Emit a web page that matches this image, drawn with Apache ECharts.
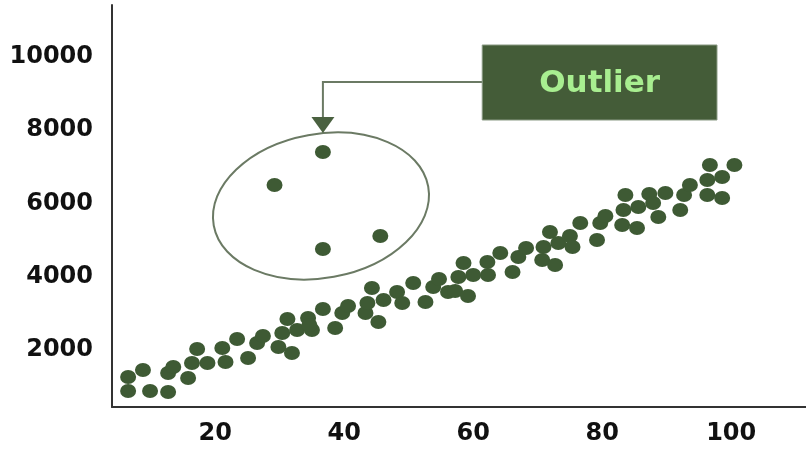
<!DOCTYPE html>
<html><head><meta charset="utf-8">
<script src="https://cdn.jsdelivr.net/npm/echarts@6/dist/echarts.min.js"></script>
<style>html,body{margin:0;padding:0;background:#fff}#c{width:806px;height:451px}</style>
</head><body><div id="c"></div>
<script>
// main point cloud
const xValues = [6.5, 6.5, 8.8, 9.9, 12.7, 12.7, 13.5, 15.8, 16.4, 17.2, 18.8, 21.1, 21.6, 23.4, 25.1, 26.5, 27.4, 29.8, 31.9, 30.4,
  31.2, 32.7, 34.4, 35.0, 34.6, 36.7, 38.6, 39.7, 40.6, 43.3, 43.6, 44.3, 45.3, 46.1, 48.2, 49.0, 50.7, 52.6, 53.8, 54.7,
  56.1, 57.2, 57.7, 58.5, 59.2, 60.0, 62.2, 62.3, 64.2, 66.1, 67.0, 68.2, 70.7, 70.9, 71.9, 72.7, 73.2, 75.0, 75.4, 76.6,
  79.2, 79.7, 80.5, 83.1, 83.3, 83.6, 85.4, 85.6, 87.3, 87.9, 88.7, 89.8, 92.1, 92.7, 93.6, 96.3, 96.3, 96.7, 98.6, 98.6, 100.5];
const yValues = [1263, 881, 1454, 881, 853, 1372, 1536, 1236, 1645, 2027, 1645, 2055, 1672, 2300, 1782, 2191, 2382, 2082, 1918, 2464,
  2846, 2546, 2874, 2546, 2683, 3119, 2601, 3010, 3201, 3010, 3283, 3693, 2765, 3365, 3584, 3283, 3829, 3311, 3720, 3939,
  3584, 3611, 3993, 4375, 3474, 4048, 4403, 4048, 4648, 4130, 4539, 4785, 4457, 4812, 5222, 4321, 4921, 5113, 4812, 5468,
  5003, 5468, 5659, 5413, 5823, 6232, 5331, 5905, 6259, 6014, 5631, 6287, 5823, 6232, 6505, 6642, 6232, 7051, 6724, 6150, 7051];
// outliers
const outlierX = [36.7, 29.2, 36.7, 45.6];
const outlierY = [7406, 6505, 4758, 5113];
// axis tick labels
const xTickLabels = [20, 40, 60, 80, 100];
const yTickLabels = [2000, 4000, 6000, 8000, 10000];
const annotationText = 'Outlier';

const chart = echarts.init(document.getElementById('c'), null, {renderer: 'canvas'});
const labelFont = {fontSize: 24, fontWeight: 'bold', fontFamily: 'DejaVu Sans', color: '#111', formatter: v => String(v)};
const dotColor = '#3e5a34';
chart.setOption({
  animation: false,
  backgroundColor: '#fff',
  grid: {left: 112, right: 0, top: 5, bottom: 44, containLabel: false},
  xAxis: {
    type: 'value', min: 4, max: 111.6,
    axisLine: {show: true, onZero: false, lineStyle: {color: '#333', width: 2}},
    axisTick: {show: false}, splitLine: {show: false},
    axisLabel: Object.assign({customValues: xTickLabels, margin: 15}, labelFont)
  },
  yAxis: {
    type: 'value', min: 444, max: 11420,
    axisLine: {show: true, onZero: false, lineStyle: {color: '#333', width: 2}},
    axisTick: {show: false}, splitLine: {show: false},
    axisLabel: Object.assign({customValues: yTickLabels, margin: 19}, labelFont)
  },
  series: [
    {type: 'scatter', name: 'data', symbol: 'circle', symbolSize: [16, 14],
     itemStyle: {color: dotColor, opacity: 1},
     data: xValues.map((x, i) => [x, yValues[i]])},
    {type: 'scatter', name: 'outliers', symbol: 'circle', symbolSize: [16, 14],
     itemStyle: {color: dotColor, opacity: 1},
     data: outlierX.map((x, i) => [x, outlierY[i]])}
  ]
});

// annotation geometry in data coordinates
const P = (x, y) => chart.convertToPixel({gridIndex: 0}, [x, y]);
const ellC = P(36.4, 5932);
const ellR = P(36.4 + 16.9, 5932 - 1966);
const rx = ellR[0] - ellC[0], ry = ellR[1] - ellC[1];
const boxTL = P(61.4, 10328), boxBR = P(97.8, 8280);
const elbow = P(36.7, 9317);
const headBase = P(36.7, 8362);
const tip = P(36.7, 7925);
const lineCol = '#6b7a64';
chart.setOption({
  graphic: [
    {type: 'ellipse', x: ellC[0], y: ellC[1], rotation: 0.18,
     shape: {cx: 0, cy: 0, rx: rx, ry: ry},
     style: {fill: 'none', stroke: lineCol, lineWidth: 2}},
    {type: 'polyline', shape: {points: [[boxTL[0], elbow[1]], [elbow[0], elbow[1]], [elbow[0], headBase[1]]]},
     style: {stroke: lineCol, lineWidth: 2, fill: 'none'}},
    {type: 'polygon', shape: {points: [[tip[0] - 11.5, headBase[1]], [tip[0] + 11.5, headBase[1]], [tip[0], tip[1]]]},
     style: {fill: '#4a6140'}},
    {type: 'rect', shape: {x: boxTL[0], y: boxTL[1], width: boxBR[0] - boxTL[0], height: boxBR[1] - boxTL[1]},
     style: {fill: '#445c38', stroke: '#8a9a84', lineWidth: 1}},
    {type: 'text', x: (boxTL[0] + boxBR[0]) / 2, y: (boxTL[1] + boxBR[1]) / 2 + 1,
     style: {text: annotationText, font: 'bold 31px "DejaVu Sans"', fill: '#a8ee90', align: 'center', verticalAlign: 'middle'}}
  ]
});
</script></body></html>
